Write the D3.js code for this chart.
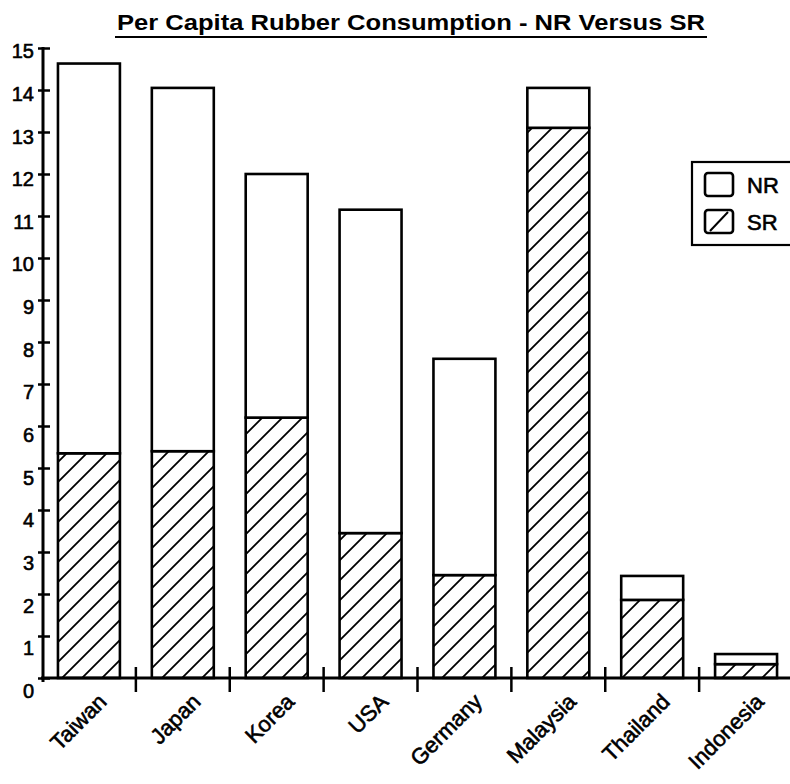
<!DOCTYPE html>
<html>
<head>
<meta charset="utf-8">
<script src="https://cdn.jsdelivr.net/npm/d3@7"></script>
<style>
  html, body { margin: 0; padding: 0; background: #fff; }
  svg { display: block; }
  text { font-family: "Liberation Sans", Arial, Helvetica, sans-serif; fill: #000; }
</style>
</head>
<body>
<svg id="chart" width="790" height="784"></svg>
<script>
// ---- data ----
const categories = ["Taiwan", "Japan", "Korea", "USA", "Germany", "Malaysia", "Thailand", "Indonesia"];
const srValues = [5.35, 5.4, 6.2, 3.45, 2.45, 13.1, 1.86, 0.33];
const nrValues = [9.28, 8.65, 5.8, 7.7, 5.15, 0.95, 0.57, 0.24];
const yTickValues = [0, 1, 2, 3, 4, 5, 6, 7, 8, 9, 10, 11, 12, 13, 14, 15];
const seriesKeys = ["SR", "NR"];
const legendLabels = ["NR", "SR"];
const titleText = "Per Capita Rubber Consumption - NR Versus SR";

const rows = categories.map((c, i) => ({ cat: c, SR: srValues[i], NR: nrValues[i] }));

const svg = d3.select("#chart");

// hatch pattern
const defs = svg.append("defs");
const pat = defs.append("pattern")
  .attr("id", "hatch")
  .attr("patternUnits", "userSpaceOnUse")
  .attr("width", 20).attr("height", 20);
pat.append("rect").attr("width", 20).attr("height", 20).attr("fill", "#fff");
pat.append("path")
  .attr("d", "M-5,5 L5,-5 M0,20 L20,0 M15,25 L25,15")
  .attr("stroke", "#000").attr("stroke-width", 1.8);

const y = d3.scaleLinear().domain([0, 15]).range([678, 48]);
const x = d3.scaleBand().domain(categories).range([42, 793])
  .paddingInner(0.34).paddingOuter(0.17);
const gap = x.step() - x.bandwidth();

// title
svg.append("text")
  .attr("x", 117).attr("y", 30)
  .attr("font-size", 22).attr("font-weight", "bold")
  .attr("textLength", 588).attr("lengthAdjust", "spacingAndGlyphs")
  .text(titleText);
svg.append("line")
  .attr("x1", 115).attr("x2", 707).attr("y1", 37).attr("y2", 37)
  .attr("stroke", "#000").attr("stroke-width", 2.2);

// stacked bars
const stack = d3.stack().keys(seriesKeys)(rows);
const fills = { SR: "url(#hatch)", NR: "#fff" };
svg.append("g").selectAll("g")
  .data(stack).join("g")
  .attr("fill", d => fills[d.key])
  .selectAll("rect")
  .data(d => d).join("rect")
  .attr("x", d => x(d.data.cat))
  .attr("width", x.bandwidth())
  .attr("y", d => y(d[1]))
  .attr("height", d => y(d[0]) - y(d[1]))
  .attr("stroke", "#000").attr("stroke-width", 2.6);

// y axis
const yAxis = d3.axisLeft(y).tickValues(yTickValues).tickSize(5).tickFormat(d3.format("d"));
const gy = svg.append("g").attr("transform", "translate(43,0)").call(yAxis);
gy.select(".domain").remove();
gy.append("line").attr("x1", 0).attr("x2", 0).attr("y1", 47).attr("y2", 682)
  .attr("stroke", "#000").attr("stroke-width", 3);
gy.selectAll(".tick line").attr("x1", -5).attr("x2", 7).attr("stroke", "#000").attr("stroke-width", 2.5);
gy.selectAll(".tick text")
  .attr("x", -9)
  .attr("dy", d => (2.7 + (15 - d) * 0.65 + 7) + "px")
  .attr("font-size", 20)
  .attr("font-family", "Liberation Sans, Arial, sans-serif")
  .attr("fill", "#000")
  .attr("stroke", "#000").attr("stroke-width", 0.6);

// x axis
svg.append("line").attr("x1", 41).attr("x2", 790).attr("y1", 678).attr("y2", 678)
  .attr("stroke", "#000").attr("stroke-width", 3);
svg.append("g").selectAll("line")
  .data(categories.slice(1)).join("line")
  .attr("x1", d => x(d) - gap / 2).attr("x2", d => x(d) - gap / 2)
  .attr("y1", 667).attr("y2", 692)
  .attr("stroke", "#000").attr("stroke-width", 2.5);

// x labels
svg.append("g").selectAll("text")
  .data(categories).join("text")
  .attr("transform", d => `translate(${x(d) + x.bandwidth() / 2 + 19},703) rotate(-45)`)
  .attr("text-anchor", "end")
  .attr("font-size", 22)
  .attr("stroke", "#000").attr("stroke-width", 0.6)
  .text(d => d);

// legend
const lg = svg.append("g");
lg.append("rect").attr("x", 692).attr("y", 162).attr("width", 120).attr("height", 83)
  .attr("fill", "#fff").attr("stroke", "#000").attr("stroke-width", 2.2);
legendLabels.forEach((k, i) => {
  const yy = 173 + i * 37;
  lg.append("rect").attr("x", 705).attr("y", yy).attr("width", 28).attr("height", 23)
    .attr("rx", 3).attr("fill", "#fff").attr("stroke", "#000").attr("stroke-width", 2.6);
  if (k === "SR") {
    lg.append("line").attr("x1", 710).attr("y1", yy + 21).attr("x2", 728).attr("y2", yy + 2)
      .attr("stroke", "#000").attr("stroke-width", 2);
  }
  lg.append("text").attr("x", 747).attr("y", yy + 20)
    .attr("font-size", 22)
    .attr("stroke", "#000").attr("stroke-width", 0.6)
    .text(k);
});
</script>
</body>
</html>
